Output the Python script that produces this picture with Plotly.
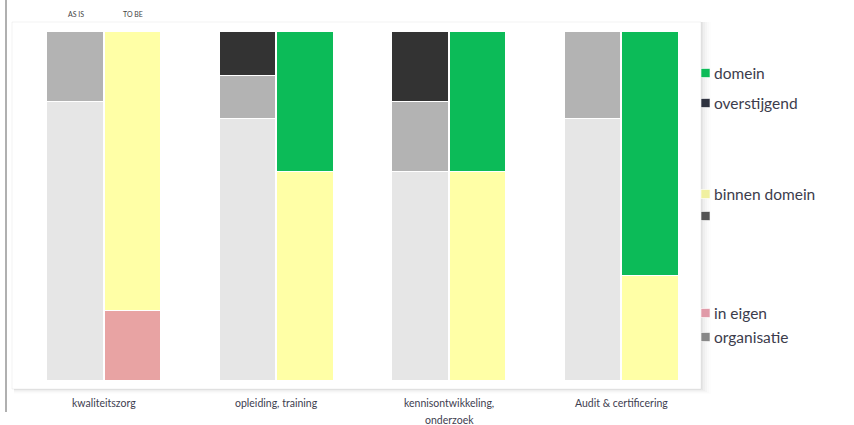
import plotly.graph_objects as go

# Categories and the two states compared per category
categories = ["kwaliteitszorg", "opleiding, training",
              "kennisontwikkeling,<br>onderzoek", "Audit & certificering"]
states = ["AS IS", "TO BE"]

# Shares (%) per series: first list = AS IS, second list = TO BE
organisatie_as_is = [80, 75, 60, 75]
organisatie_to_be = [0, 0, 0, 0]
in_eigen_as_is = [0, 0, 0, 0]
in_eigen_to_be = [20, 0, 0, 0]
grijs_as_is = [20, 12.5, 20, 25]
grijs_to_be = [0, 0, 0, 0]
binnen_domein_as_is = [0, 0, 0, 0]
binnen_domein_to_be = [80, 60, 60, 30]
overstijgend_as_is = [0, 12.5, 20, 0]
overstijgend_to_be = [0, 0, 0, 0]
domein_as_is = [0, 0, 0, 0]
domein_to_be = [0, 40, 40, 70]

series = [
    ("organisatie", organisatie_as_is, organisatie_to_be, "#e6e6e6"),
    ("in eigen", in_eigen_as_is, in_eigen_to_be, "#e8a3a3"),
    ("", grijs_as_is, grijs_to_be, "#b3b3b3"),
    ("binnen domein", binnen_domein_as_is, binnen_domein_to_be, "#ffffa6"),
    ("overstijgend", overstijgend_as_is, overstijgend_to_be, "#333333"),
    ("domein", domein_as_is, domein_to_be, "#0cbb58"),
]

W, H = 854, 425
ML, MR, MT, MB = 18, 146, 32, 44
BAR_W = 0.325
OFFSET = 1 / 6

x_as_is = [i - OFFSET for i in range(len(categories))]
x_to_be = [i + OFFSET for i in range(len(categories))]

fig = go.Figure()
for name, as_is, to_be, color in series:
    fig.add_trace(go.Bar(
        x=x_as_is + x_to_be,
        y=as_is + to_be,
        width=BAR_W,
        name=name,
        marker=dict(color=color, line=dict(color="white", width=1.5)),
        showlegend=False,
    ))


def px_x(p):
    return (p - ML) / (W - ML - MR)


def px_y(p):
    return (H - MB - p) / (H - MT - MB)


shapes = []
# Chart panel with soft right shadow
for k, op in enumerate([0.035, 0.025, 0.018, 0.012, 0.008]):
    shapes.append(dict(type="rect", xref="paper", yref="paper",
                       x0=px_x(14), x1=px_x(703 + 2 * k), y0=px_y(390 + k), y1=px_y(22),
                       fillcolor=f"rgba(0,0,0,{op})", line=dict(width=0), layer="below"))
shapes.append(dict(type="rect", xref="paper", yref="paper",
                   x0=px_x(12), x1=px_x(701), y0=px_y(389), y1=px_y(22),
                   fillcolor="white", line=dict(color="rgba(0,0,0,0.05)", width=1),
                   layer="below"))
# Left rule
shapes.append(dict(type="line", xref="paper", yref="paper",
                   x0=px_x(6), x1=px_x(6), y0=px_y(0), y1=px_y(412),
                   line=dict(color="#b0b0b0", width=2)))

# Legend entries (label, colour, vertical pixel position)
legend_items = [
    ("domein", "#0cbb58", 73),
    ("overstijgend", "#2f3340", 103),
    ("binnen domein", "#f0f0a0", 194),
    ("", "#555555", 216),
    ("in eigen", "#e09aa8", 313),
    ("organisatie", "#888888", 337),
]
annotations = []
for label, color, py in legend_items:
    shapes.append(dict(type="rect", xref="paper", yref="paper",
                       x0=px_x(701), x1=px_x(710), y0=px_y(py + 4.5), y1=px_y(py - 4.5),
                       fillcolor=color, line=dict(color="rgba(255,255,255,0.6)", width=1)))
    if label:
        annotations.append(dict(xref="paper", yref="paper", x=px_x(712), y=px_y(py),
                                text=label, showarrow=False, xanchor="left",
                                yanchor="middle",
                                font=dict(size=15.5, color="#3c3c4c", family="Lato")))

# State labels above the first category
for xv, label in zip([x_as_is[0], x_to_be[0]], states):
    annotations.append(dict(xref="x", yref="paper", x=xv, y=px_y(14), text=label,
                            showarrow=False, yanchor="middle",
                            font=dict(size=7, color="#444444", family="Lato")))

# Category labels below the bars, one line each
for i, cat in enumerate(categories):
    for j, line in enumerate(cat.split("<br>")):
        annotations.append(dict(xref="x", yref="paper", x=i, y=px_y(403 + 17 * j),
                                text=line, showarrow=False, yanchor="middle",
                                font=dict(size=10.5, color="#3e3e50", family="Lato")))

fig.update_layout(
    barmode="stack",
    width=W, height=H,
    margin=dict(l=ML, r=MR, t=MT, b=MB),
    paper_bgcolor="white",
    plot_bgcolor="rgba(0,0,0,0)",
    shapes=shapes,
    annotations=annotations,
    bargap=0,
    xaxis=dict(
        range=[-0.5, len(categories) - 0.5],
        showticklabels=False,
        showgrid=False, zeroline=False, showline=False, ticks="",
    ),
    yaxis=dict(range=[0, 100], visible=False, showgrid=False),
)

fig.write_html("out.html")
